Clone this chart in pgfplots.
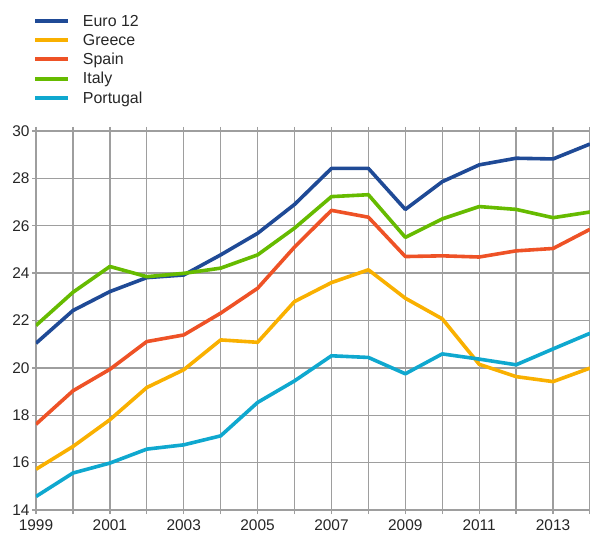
\documentclass[border=0pt]{standalone}
\usepackage{fontspec}
\setmainfont{Liberation Sans}
\usepackage{pgfplots}
\pgfplotsset{compat=1.18}
\definecolor{ceuro}{HTML}{1F4A96}
\definecolor{cgre}{HTML}{F9B000}
\definecolor{cspa}{HTML}{EE5226}
\definecolor{cita}{HTML}{66BB00}
\definecolor{cpor}{HTML}{0FA8CF}
\definecolor{cgrid}{HTML}{9E9E9E}
\begin{document}
\begin{tikzpicture}
\begin{axis}[
  scale only axis, width=554bp, height=379bp,
  xmin=1999, xmax=2014, ymin=14, ymax=30,
  xtick={1999,...,2014},
  xticklabels={1999,,2001,,2003,,2005,,2007,,2009,,2011,,2013,},
  ytick={14,16,...,30},
  /pgf/number format/assume math mode=true,
  tick label style={font=\fontsize{15.5}{18}\selectfont, text=black!85},
  grid=major, major grid style={cgrid, line width=1.3bp},
  axis line style={cgrid, line width=1.3bp},
  tick style={cgrid, line width=1.3bp},
  tick align=outside, major tick length=4bp,
  xticklabel style={yshift=-2bp},
  yticklabel style={xshift=1bp},
  clip=true,
  legend cell align=left,
  legend style={at={(0,1)}, anchor=south west, xshift=-6bp, yshift=22bp,
    draw=none, fill=none, font=\fontsize{16}{18}\selectfont, row sep=2.4bp,
    text=black!85, nodes={inner xsep=4bp}},
  legend image code/.code={\draw[#1, line width=4bp] (0bp,0bp) -- (33bp,0bp); \path (42bp,0bp);},
  every axis plot/.append style={line width=3.6bp, line join=round},
]
\addplot[ceuro] coordinates {(1999,21.04)(2000,22.42)(2001,23.22)(2002,23.81)(2003,23.92)(2004,24.77)(2005,25.68)(2006,26.9)(2007,28.42)(2008,28.42)(2009,26.69)(2010,27.86)(2011,28.57)(2012,28.85)(2013,28.82)(2014,29.45)};
\addlegendentry{Euro 12}
\addplot[cgre] coordinates {(1999,15.72)(2000,16.68)(2001,17.81)(2002,19.17)(2003,19.92)(2004,21.18)(2005,21.08)(2006,22.8)(2007,23.6)(2008,24.14)(2009,22.94)(2010,22.07)(2011,20.15)(2012,19.63)(2013,19.42)(2014,19.99)};
\addlegendentry{Greece}
\addplot[cspa] coordinates {(1999,17.62)(2000,19.03)(2001,19.94)(2002,21.11)(2003,21.39)(2004,22.31)(2005,23.36)(2006,25.1)(2007,26.65)(2008,26.36)(2009,24.7)(2010,24.73)(2011,24.68)(2012,24.94)(2013,25.04)(2014,25.85)};
\addlegendentry{Spain}
\addplot[cita] coordinates {(1999,21.79)(2000,23.19)(2001,24.28)(2002,23.85)(2003,23.99)(2004,24.21)(2005,24.77)(2006,25.9)(2007,27.23)(2008,27.31)(2009,25.51)(2010,26.29)(2011,26.81)(2012,26.69)(2013,26.34)(2014,26.58)};
\addlegendentry{Italy}
\addplot[cpor] coordinates {(1999,14.57)(2000,15.56)(2001,15.98)(2002,16.57)(2003,16.75)(2004,17.13)(2005,18.54)(2006,19.45)(2007,20.51)(2008,20.44)(2009,19.75)(2010,20.59)(2011,20.37)(2012,20.13)(2013,20.8)(2014,21.46)};
\addlegendentry{Portugal}
\end{axis}
\pgfresetboundingbox
\path (current axis.south west) ++(-36bp,-25bp) coordinate (bl);
\path (current axis.north east) ++(0bp,131bp) coordinate (tr);
\path (bl) rectangle (tr);
\end{tikzpicture}
\end{document}
